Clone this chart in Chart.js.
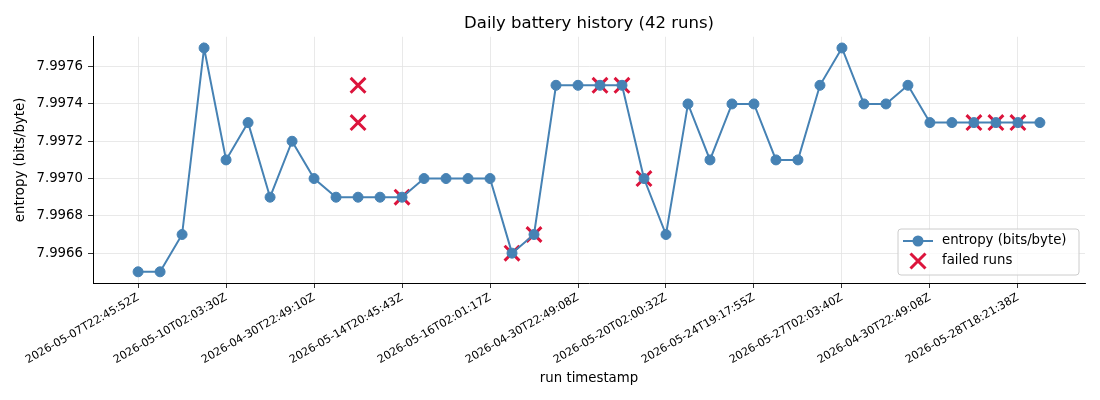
<!DOCTYPE html>
<html>
<head>
<meta charset="utf-8">
<script src="https://cdn.jsdelivr.net/npm/chart.js@4.4.1/dist/chart.umd.min.js"></script>
<style>
  html, body { margin: 0; padding: 0; background: #fff; }
</style>
</head>
<body>
<canvas id="chart" width="1100" height="400"></canvas>
<script>
// entropy per run, in run order
const entropy = [
  7.9965, 7.9965, 7.9967, 7.9977, 7.9971, 7.9973, 7.9969, 7.9972, 7.9970, 7.9969,
  7.9969, 7.9969, 7.9969, 7.9970, 7.9970, 7.9970, 7.9970, 7.9966, 7.9967, 7.9975,
  7.9975, 7.9975, 7.9975, 7.9970, 7.9967, 7.9974, 7.9971, 7.9974, 7.9974, 7.9971,
  7.9971, 7.9975, 7.9977, 7.9974, 7.9974, 7.9975, 7.9973, 7.9973, 7.9973, 7.9973,
  7.9973, 7.9973
];

// failed runs (run index, value)
const failedIdx = [10, 10, 12, 17, 18, 21, 22, 23, 38, 39, 40];
const failedVal = [7.9975, 7.9973, 7.9969, 7.9966, 7.9967, 7.9975, 7.9975, 7.9970, 7.9973, 7.9973, 7.9973];

const tickPos = [0, 4, 8, 12, 16, 20, 24, 28, 32, 36, 40];
const tickLabels = [
  '2026-05-07T22:45:52Z', '2026-05-10T02:03:30Z', '2026-04-30T22:49:10Z',
  '2026-05-14T20:45:43Z', '2026-05-16T02:01:17Z', '2026-04-30T22:49:08Z',
  '2026-05-20T02:00:32Z', '2026-05-24T19:17:55Z', '2026-05-27T02:03:40Z',
  '2026-04-30T22:49:08Z', '2026-05-28T18:21:38Z'
];
const yTicks = [7.9966, 7.9968, 7.9970, 7.9972, 7.9974, 7.9976];

const FONT = 'DejaVu Sans';
const BLUE = '#4682b4';
const RED = '#dc143c';
const GRID = '#e3e3e3';

// legend in the lower right corner of the plot
const legendBox = {
  id: 'legendBox',
  afterDraw(chart) {
    const { ctx, chartArea } = chart;
    const w = 181, h = 46;
    const x = chartArea.right - 6 - w;
    const y = chartArea.bottom - 8 - h;
    ctx.save();
    ctx.beginPath();
    ctx.roundRect(x, y, w, h, 3);
    ctx.fillStyle = 'rgba(255,255,255,0.8)';
    ctx.fill();
    ctx.strokeStyle = '#cccccc';
    ctx.lineWidth = 1;
    ctx.stroke();

    const r1 = y + 12, r2 = y + 32, mx = x + 20;
    ctx.strokeStyle = BLUE;
    ctx.lineWidth = 2;
    ctx.beginPath();
    ctx.moveTo(x + 5, r1);
    ctx.lineTo(x + 35, r1);
    ctx.stroke();
    ctx.fillStyle = BLUE;
    ctx.beginPath();
    ctx.arc(mx, r1, 5.5, 0, Math.PI * 2);
    ctx.fill();

    ctx.strokeStyle = RED;
    ctx.lineWidth = 3;
    ctx.beginPath();
    ctx.moveTo(mx - 7.5, r2 - 7.5);
    ctx.lineTo(mx + 7.5, r2 + 7.5);
    ctx.moveTo(mx + 7.5, r2 - 7.5);
    ctx.lineTo(mx - 7.5, r2 + 7.5);
    ctx.stroke();

    ctx.fillStyle = '#000';
    ctx.font = '13.3px "' + FONT + '"';
    ctx.textBaseline = 'middle';
    ctx.textAlign = 'left';
    ctx.fillText('entropy (bits/byte)', x + 44, r1);
    ctx.fillText('failed runs', x + 44, r2);
    ctx.restore();
  }
};

new Chart(document.getElementById('chart'), {
  type: 'line',
  data: {
    datasets: [
      {
        label: 'entropy (bits/byte)',
        data: entropy.map((v, i) => ({ x: i, y: v })),
        borderColor: BLUE,
        backgroundColor: BLUE,
        borderWidth: 2,
        pointRadius: 5,
        pointBorderWidth: 1,
        pointBackgroundColor: BLUE,
        pointBorderColor: BLUE,
        tension: 0
      },
      {
        label: 'failed runs',
        data: failedIdx.map((i, k) => ({ x: i, y: failedVal[k] })),
        showLine: false,
        pointStyle: 'crossRot',
        pointRadius: 10.5,
        pointBorderWidth: 3,
        borderColor: RED,
        backgroundColor: RED
      }
    ]
  },
  options: {
    responsive: false,
    animation: false,
    devicePixelRatio: 1,
    layout: { padding: { left: 0, right: 15, top: 0, bottom: 0 } },
    plugins: {
      legend: { display: false },
      tooltip: { enabled: false },
      title: {
        display: true,
        fullSize: false,
        text: 'Daily battery history (42 runs)',
        color: '#000',
        font: { family: FONT, size: 16.5, weight: 'normal' },
        padding: { top: 14, bottom: 3 }
      }
    },
    scales: {
      x: {
        type: 'linear',
        min: -2.05,
        max: 43.05,
        afterBuildTicks: s => { s.ticks = tickPos.map(v => ({ value: v })); },
        afterFit: s => { s.height = 117; },
        ticks: {
          autoSkip: false,
          maxRotation: 30,
          minRotation: 30,
          padding: 3,
          color: '#000',
          font: { family: FONT, size: 11.1 },
          callback: (v, i) => tickLabels[i]
        },
        grid: { color: GRID, lineWidth: 0.8, tickColor: '#000', tickLength: 5 },
        border: { color: '#000', width: 1 },
        title: {
          display: true,
          text: 'run timestamp',
          color: '#000',
          font: { family: FONT, size: 13.3 },
          padding: { top: 0, bottom: 13 }
        }
      },
      y: {
        min: 7.99644,
        max: 7.99776,
        afterBuildTicks: s => { s.ticks = yTicks.map(v => ({ value: v })); },
        afterFit: s => { s.width = 93; },
        ticks: {
          padding: 5,
          color: '#000',
          font: { family: FONT, size: 13.3 },
          callback: v => v.toFixed(4)
        },
        grid: { color: GRID, lineWidth: 0.8, tickColor: '#000', tickLength: 5 },
        border: { color: '#000', width: 1 },
        title: {
          display: true,
          text: 'entropy (bits/byte)',
          color: '#000',
          font: { family: FONT, size: 13.3 },
          padding: { top: 13, bottom: 0 }
        }
      }
    }
  },
  plugins: [legendBox]
});
</script>
</body>
</html>
